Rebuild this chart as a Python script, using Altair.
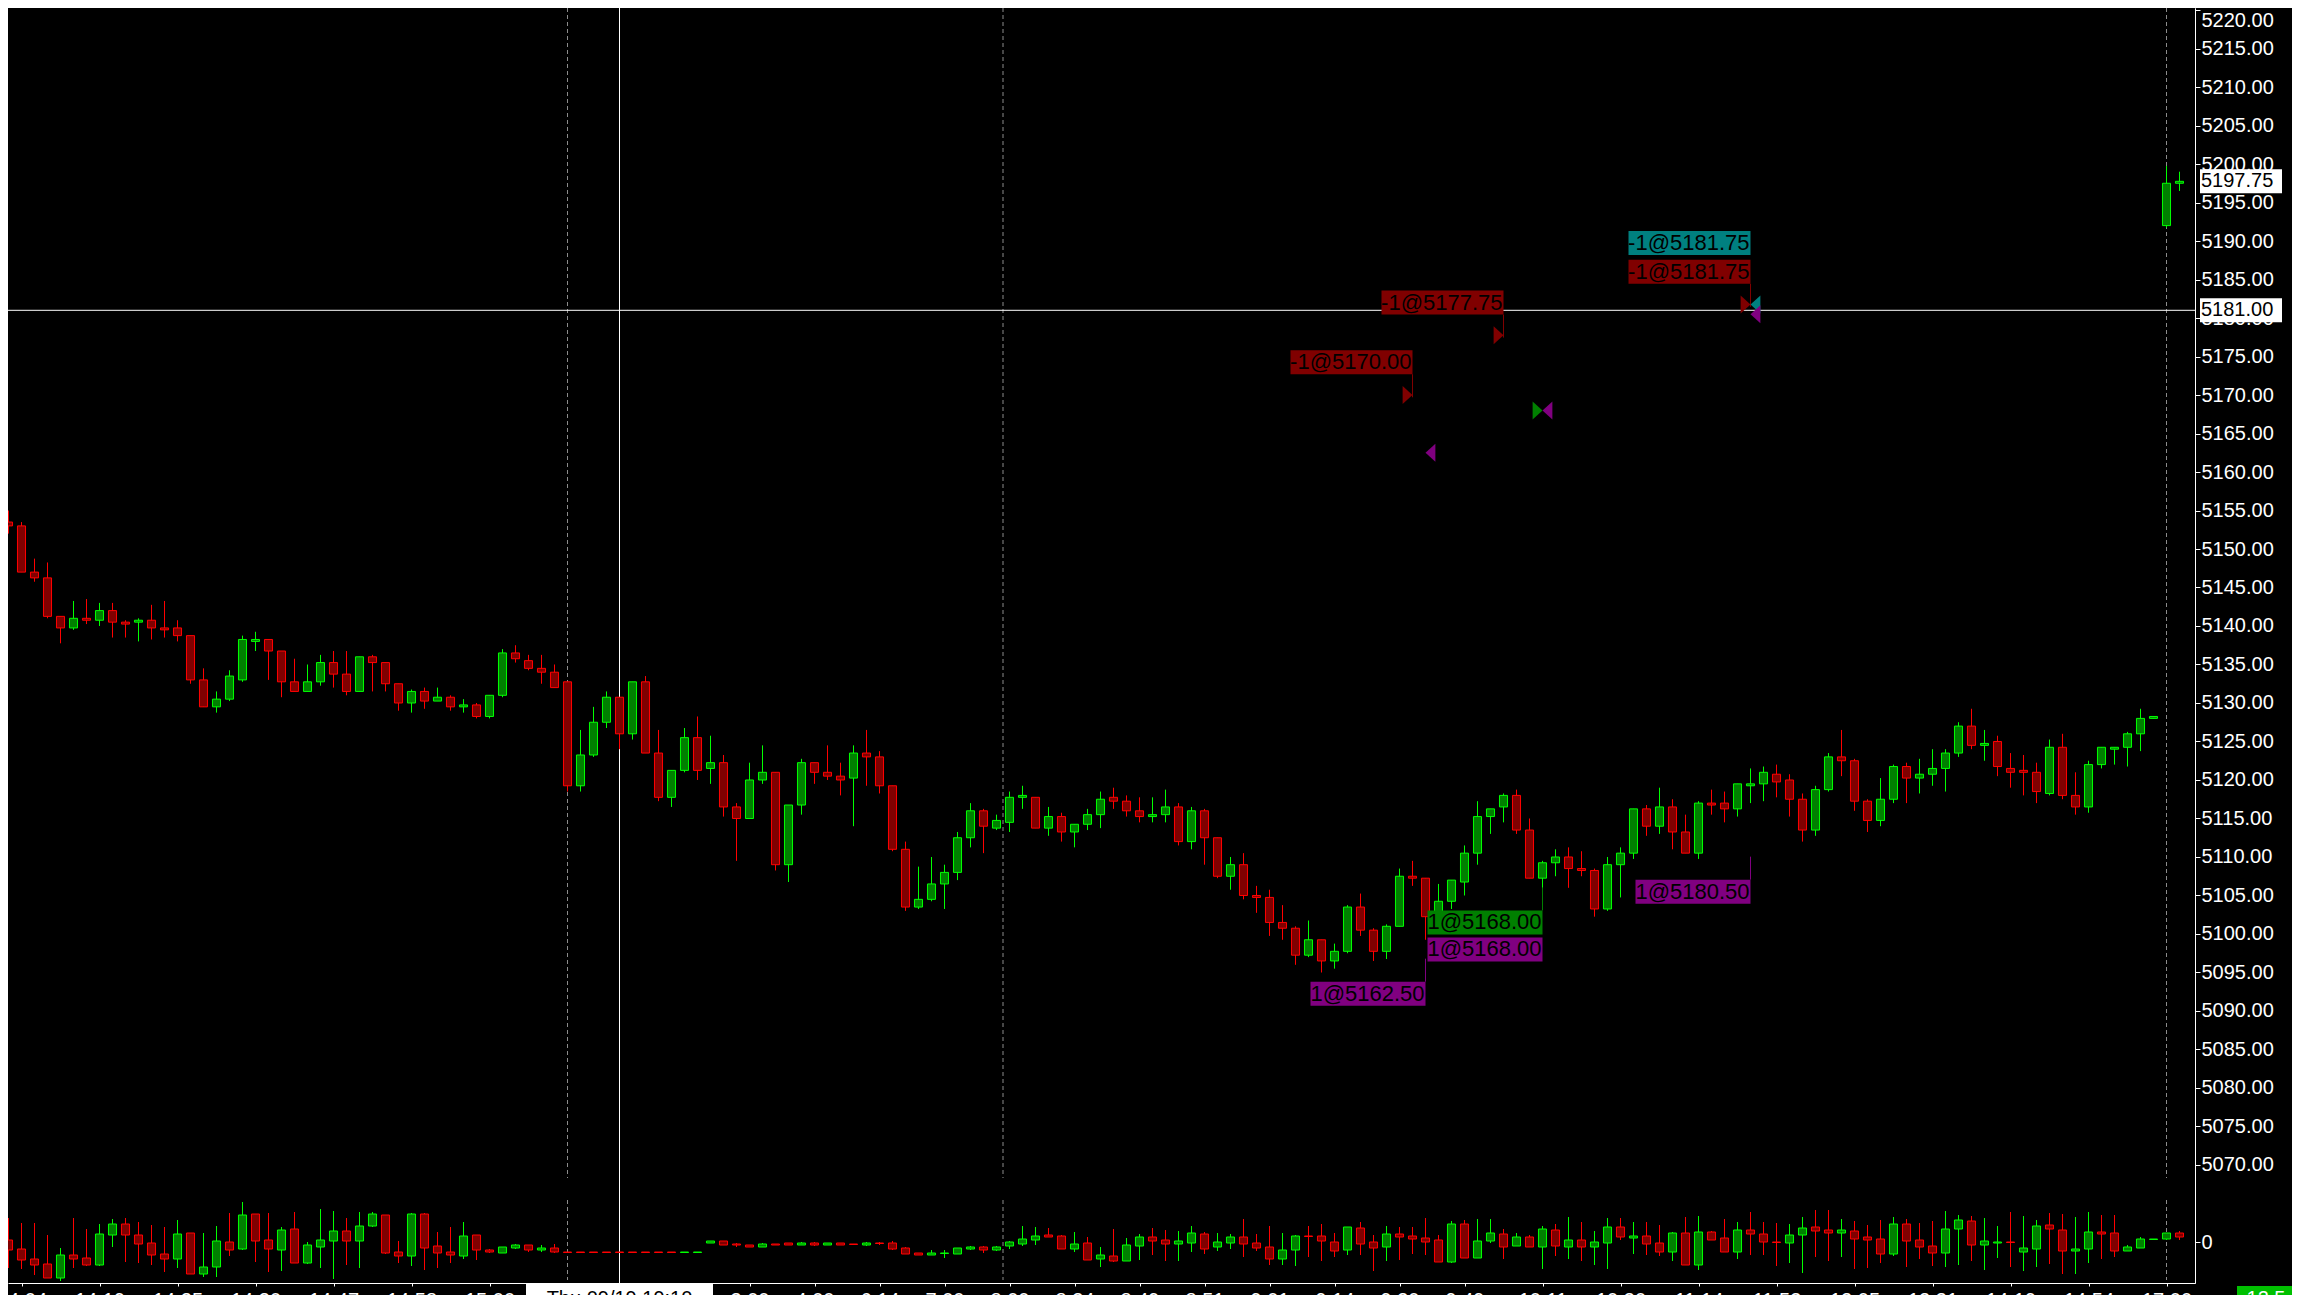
import altair as alt
import pandas as pd

# ---------------- price bars (index 0..167) ----------------
open_p = [
    5153.5, 5153, 5147, 5146.25, 5141.25, 5139.75, 5141, 5140.75, 5142, 5140.5,
    5140.5, 5140.75, 5139.75, 5139.75, 5138.75, 5133, 5129.5, 5130.5, 5133, 5138,
    5138.25, 5136.75, 5132.75, 5131.5, 5132.75, 5135.25, 5133.75, 5131.5, 5136, 5135.25,
    5132.5, 5130, 5131.5, 5130.25, 5130.75, 5129.5, 5129.75, 5128.25, 5131, 5136.5,
    5135.5, 5134.5, 5134, 5132.75, 5119.25, 5123.25, 5127.5, 5130.75, 5126, 5132.75,
    5123.5, 5117.75, 5121.25, 5125.5, 5121.5, 5122.25, 5116.5, 5115, 5120, 5121,
    5109, 5116.75, 5122.25, 5121, 5120.5, 5120.25, 5123.5, 5123, 5119.25, 5111,
    5103.5, 5104.5, 5106.5, 5108, 5112.5, 5116, 5113.75, 5114.5, 5117.75, 5117.75,
    5113.75, 5115.25, 5113.25, 5114.25, 5115.5, 5117.75, 5117.25, 5116, 5115.25, 5115.5,
    5116.5, 5112, 5116, 5112.5, 5107.5, 5109, 5105, 5104.75, 5101.5, 5100.75,
    5097.25, 5099.25, 5096.5, 5097.75, 5103.5, 5100.5, 5097.75, 5101, 5107.5, 5107.25,
    5102.5, 5104.25, 5106.75, 5110.5, 5115.25, 5116.5, 5118, 5113.5, 5107.25, 5109.25,
    5110, 5108.5, 5108.25, 5103.25, 5109, 5110.5, 5116.25, 5114, 5116.5, 5113.25,
    5110.5, 5117, 5117, 5116.25, 5119.25, 5119.5, 5120.75, 5120, 5117.5, 5113.5,
    5118.75, 5123, 5122.5, 5117.25, 5114.75, 5117.5, 5121.75, 5120.25, 5120.75, 5121.5,
    5123.5, 5127, 5124.5, 5125, 5121.5, 5121.25, 5121, 5118.25, 5124.25, 5118,
    5116.5, 5122, 5124, 5124.25, 5126, 5128, 5192, 5197.5,
]
high_p = [
    5155, 5153.5, 5148.75, 5148.25, 5141.25, 5143.25, 5143.5, 5143, 5143, 5140.75,
    5141, 5142.75, 5143.25, 5140.75, 5138.75, 5134.5, 5131.5, 5134.25, 5138.75, 5139.25,
    5138.25, 5136.75, 5135.75, 5135, 5136.25, 5136.75, 5136.75, 5136, 5136.25, 5135.25,
    5132.5, 5131.75, 5132, 5132, 5131, 5130.5, 5130, 5131, 5137, 5137.5,
    5136.25, 5136.25, 5135, 5132.75, 5126.5, 5129.5, 5131.5, 5130.75, 5132.75, 5133.5,
    5126.5, 5121.25, 5126.75, 5128.25, 5125.75, 5123.25, 5117, 5122.25, 5124.5, 5121,
    5116.75, 5122.75, 5122.25, 5124.5, 5122.25, 5124.5, 5126.5, 5123.75, 5119.25, 5112,
    5108.75, 5110, 5109, 5113.25, 5117, 5116.25, 5115.5, 5118.5, 5119.25, 5117.75,
    5116.5, 5115.75, 5114.25, 5116.25, 5118.5, 5119, 5118, 5117.75, 5117.75, 5118.75,
    5117, 5116.5, 5116.25, 5112.5, 5110, 5110.5, 5106.25, 5105.75, 5103.75, 5101,
    5101.75, 5099.25, 5098.75, 5103.75, 5105.25, 5100.75, 5101.25, 5108.5, 5109.5, 5107.25,
    5106.5, 5107, 5111.5, 5117.25, 5116.25, 5118.25, 5118.75, 5115, 5109.5, 5111,
    5111.25, 5110.75, 5108.5, 5110, 5111.25, 5116.25, 5116.75, 5119, 5117.5, 5115.5,
    5117.25, 5118.75, 5118.5, 5119.5, 5121.5, 5121.75, 5122, 5120.75, 5118.25, 5119.25,
    5123.5, 5126.5, 5122.75, 5117.5, 5120.25, 5122, 5122.25, 5122.75, 5124, 5124,
    5127.5, 5129.25, 5126.5, 5125.75, 5123.5, 5123.25, 5122.25, 5125.25, 5126, 5121,
    5122.5, 5124.25, 5124.25, 5126.25, 5129.25, 5128.25, 5199.75, 5199,
]
low_p = [
    5152, 5147, 5145.75, 5141, 5137.75, 5139.5, 5140.25, 5140, 5138.5, 5138.5,
    5138, 5138.25, 5138.5, 5138, 5132.5, 5129.5, 5128.75, 5130.25, 5132.75, 5136.75,
    5133, 5130.75, 5131.5, 5131.5, 5132.25, 5132, 5131, 5131.5, 5131.5, 5131.5,
    5129, 5128.75, 5129.25, 5130.25, 5129, 5128.75, 5128, 5128, 5130.75, 5135.25,
    5134.25, 5132.5, 5132, 5118.5, 5118.5, 5123, 5126.75, 5124, 5125.25, 5123.5,
    5117.25, 5116.5, 5121, 5120, 5119.5, 5115.25, 5109.5, 5115, 5119.5, 5108.25,
    5106.75, 5115.5, 5119.5, 5120, 5118, 5114, 5119.25, 5118.25, 5110.75, 5103,
    5103.25, 5104.25, 5103.25, 5107, 5111.25, 5110.5, 5113.5, 5113.25, 5116.25, 5113.75,
    5112.75, 5112, 5111.25, 5113.5, 5113.75, 5116.25, 5115.25, 5114.5, 5114.5, 5114.5,
    5111.5, 5111, 5109, 5107.25, 5105.75, 5104.5, 5102.75, 5099.75, 5099.25, 5096,
    5097, 5095, 5095.5, 5097.5, 5099.75, 5096.5, 5096.75, 5101, 5106.25, 5099.25,
    5101.5, 5103.25, 5105, 5109, 5113, 5114.5, 5113, 5107.25, 5105.75, 5107.5,
    5106, 5107.5, 5102.25, 5103, 5104.75, 5109.75, 5112.75, 5113, 5111, 5110.5,
    5109.75, 5115.5, 5114.5, 5115.25, 5117, 5117.25, 5117.75, 5115.25, 5112, 5112.75,
    5118.5, 5120.5, 5116, 5113.25, 5114, 5117, 5117, 5118.25, 5119.25, 5118.5,
    5123, 5124, 5122.5, 5120.5, 5119, 5118, 5117, 5118, 5117.5, 5115.5,
    5115.75, 5121.5, 5122, 5121.75, 5123.75, 5128, 5191.75, 5196.5,
]
close_p = [
    5153, 5147, 5146.25, 5141.25, 5139.75, 5141, 5140.75, 5142, 5140.5, 5140.25,
    5140.75, 5139.75, 5139.5, 5138.75, 5133, 5129.5, 5130.5, 5133.5, 5138.25, 5138.25,
    5136.75, 5132.75, 5131.5, 5132.75, 5135.25, 5133.75, 5131.5, 5136, 5135.25, 5132.5,
    5130, 5131.5, 5130.25, 5130.75, 5129.5, 5129.75, 5128.25, 5131, 5136.5, 5135.75,
    5134.5, 5134, 5132, 5119.25, 5123.25, 5127.5, 5130.75, 5126, 5132.75, 5123.5,
    5117.75, 5121.25, 5125.5, 5121.25, 5122.25, 5116.5, 5115, 5120, 5121, 5109,
    5116.75, 5122.25, 5121, 5120.5, 5120, 5123.5, 5123, 5119.25, 5111, 5103.5,
    5104.5, 5106.5, 5108, 5112.5, 5116, 5114, 5114.75, 5117.75, 5118, 5113.75,
    5115.25, 5113.25, 5114.25, 5115.5, 5117.5, 5117.25, 5116, 5115.25, 5115.5, 5116.5,
    5112, 5116, 5112.5, 5107.5, 5109, 5105, 5104.75, 5101.5, 5100.75, 5097.25,
    5099.25, 5096.5, 5097.75, 5103.5, 5100.5, 5097.75, 5101, 5107.5, 5107.25, 5102.25,
    5104.25, 5107, 5110.5, 5115.25, 5116.25, 5118, 5113.5, 5107.25, 5109.25, 5110,
    5108.5, 5108.25, 5103.25, 5109, 5110.5, 5116.25, 5114, 5116.5, 5113.25, 5110.5,
    5117, 5116.75, 5116.25, 5119.5, 5119.5, 5121, 5119.75, 5117.5, 5113.5, 5118.75,
    5123, 5122.5, 5117.25, 5114.75, 5117.5, 5121.75, 5120.25, 5120.75, 5121.5, 5123.5,
    5127, 5124.5, 5124.75, 5121.75, 5121, 5121, 5118.5, 5124.25, 5118, 5116.5,
    5122, 5124.25, 5124.25, 5126, 5128, 5128.25, 5197.5, 5197.75,
]

# ---------------- lower indicator bars ----------------
ind_open = [
    1, -3.5, -8.5, -11, -18, -6.5, -8, -11.5, 3.5, 9,
    3.5, -0.5, -6, -8.5, 4.5, -16, -12.5, 0, -3.5, 14,
    1, -4, 6.5, -10.5, -2.5, 0.5, 5.5, 0.5, 8, 13.5,
    -5, -7, 14, -2, -5, -7, 3.5, -4, -5.5, -3,
    -1.5, -4, -3, -5, -5, -5, -5, -5, -5, -5,
    -5, -5, -5.25, -5.25, -0.5, 0.5, -1, -1.5, -2.5, -1,
    -0.5, -1.5, -0.5, -1.5, -0.5, -1, -1.5, -0.5, -0.5, -3,
    -5.5, -6.5, -5.75, -6, -3.5, -2.5, -4, -2, -1, 1,
    3.5, 3, -3.5, -0.5, -8.5, -7, -9.5, -2, 2.5, 1,
    -1, -0.5, 4, -2.5, -0.5, 2.5, -0.5, -2.5, -8.5, -4,
    3, 3, 0, -4, 7, 0, -2.5, 4, 3, 2,
    1, -10, 9, -8, 0.5, 4, -2, 2.5, -2.5, 6,
    -2.5, 1, -2.5, -0.5, 7.5, 2, 3, -0.5, -5, 4.5,
    -11.5, 5, 2, -5, 6, 4, 0, -0.5, 3.5, 7.5,
    6, 4.5, 5.5, 2.5, 1.5, -6, 9, 1, -2, -5.5,
    6.5, 10.5, -1.5, -0.5, 0, -5, -3.5, 8.5, 6, -4.5,
    -3.5, 5, 4.5, -4.5, -3, 1.25, 1.5, 4.5,
]
ind_high = [
    12, 9.5, 9.5, 3.5, -3, 12, 6.5, 9, 11.5, 12,
    10, 8.5, 7.5, 11, 4.5, 4.5, 8, 14.5, 20, 14,
    14.5, 7.5, 15, 0, 16.5, 15.5, 12, 15, 15, 13.5,
    0.5, 14.5, 14.5, 5, 7.5, 10, 3.5, -3.5, -2.5, -1,
    -1.5, -1.5, -1, -5, -5, -5, -5, -5, -5, -5,
    -5, -5, -5, -5, 0.5, 0.5, -0.5, -1.5, -0.5, -1,
    -0.5, 0, 0, -0.5, -0.5, -1, 0, 0, 0.5, -2.5,
    -5.5, -4, -4, -3, -2, -2, -2, 0.5, 8, 7.5,
    7, 3.5, 5, 2.5, -2.5, 6.5, 2, 4, 7, 6,
    5.5, 8, 5, 4.5, 4, 11.5, 4, 8, 4.5, 3.5,
    8, 9, 4.5, 7.5, 10, 3.5, 8, 7.5, 7.5, 12,
    3.5, 10.5, 11, 11.5, 11.5, 6.5, 4.5, 3.5, 8, 9,
    12.5, 10, 5.5, 12, 12, 10, 10, 8.5, 5, 12.5,
    13, 5.5, 11.5, 10, 15, 10, 9.5, 9, 12.5, 16,
    16, 11.5, 10.5, 8.5, 11, 12.5, 11.5, 9.5, 10.5, 15.5,
    13.5, 13, 12, 8, 15, 13, 11, 14.5, 14, 12.5,
    15, 13.5, 13.5, -1.5, 2.5, 1.5, 4.5, 5.5,
]
ind_low = [
    -13, -13.5, -16.5, -18, -19.5, -13, -12, -12, -2.5, -10,
    -10.5, -11.5, -15, -13, -16, -17.5, -17.5, -7, -4, -10,
    -15, -14.5, -10.5, -11, -13, -18.5, -11.5, -13, 7.5, -6,
    -10.5, -12, -14, -13, -10.5, -8.5, -9, -5.5, -5.5, -3.5,
    -5, -5, -5.5, -5.25, -5.25, -5.25, -5.25, -5.25, -5.25, -5.25,
    -5.25, -5.25, -5.25, -5.25, -0.5, -1.5, -2.5, -2.5, -2.5, -1.5,
    -1.5, -1.5, -2, -1.5, -1.5, -1.5, -2, -1.5, -4, -6,
    -6.5, -6.5, -8, -6, -4, -5.5, -4.5, -3.5, -2, -1.5,
    2.5, -3.5, -5, -9, -12.5, -10, -9.5, -9, -6.5, -9.5,
    -9.5, -5, -6, -4.5, -3.5, -7.5, -4.5, -11.5, -11.5, -12,
    -7.5, -9.5, -7.5, -6.5, -6.5, -14.5, -9.5, -9, -6, -6.5,
    -10, -10.5, -8, -8, -0.5, -8.5, -2, -2.5, -13.5, -7,
    -8.5, -9.5, -11.5, -13.5, 1, -6, -6.5, -7, -9.5, -11.5,
    -14, 1, -5, -8.5, -6.5, -6.5, -12, -10.5, -15.5, -7.5,
    -9.5, -7.5, -13.5, -13, -10.5, -7, -12.5, -8.5, -12, -12.5,
    -11.5, -9.5, -14, -8, -12.5, -14.5, -12.5, -11, -16, -16,
    -10.5, -8.5, -7.5, -4.5, -3, 1.25, 1, 1,
]
ind_close = [
    -4, -9, -11.5, -18, -6.5, -8.5, -11.5, 4, 9, 3.5,
    -1, -6.5, -8.5, 4, -16, -12.5, 0.5, -4, 13.5, 0.5,
    -3.5, 6, -10.5, -1.5, 1, 5.5, 0.5, 8, 14, -5.5,
    -7, 14, -3, -5.5, -6.5, 3, -4, -5, -2.5, -1.5,
    -4, -3, -5, -5.25, -5.25, -5.25, -5.25, -5.25, -5.25, -5.25,
    -5.25, -5.25, -5, -5, 0.5, -1.5, -1.5, -2.5, -1, -1.5,
    -1.5, -0.5, -1.5, -0.5, -1.5, -1.25, -0.5, -0.75, -3.5, -6,
    -6.5, -5.5, -5.5, -3, -2.5, -4, -2.5, 0, 1.5, 3,
    2.5, -3.5, -1, -9, -6.5, -9.5, -1.5, 2.5, 0.5, -1,
    0.5, 4.5, -3.5, 0, 2.5, -1, -3, -8.5, -4, 3,
    2.75, 0.5, -4.5, 7.5, -1, -3, 4, 2.5, 1.5, 0,
    -10, 9, -8, 0.5, 4.5, -2.5, 2.5, -2.5, 6.5, -2,
    1, -2.5, 0, 7.5, 2.5, 3, -1, -5, 4.5, -11.5,
    5, 1, -5, 6, 4, 0, -0.25, 3.5, 7, 5.5,
    4.5, 6, 1.5, 1, -6, 9, 0.5, -2.5, -5.5, 6.5,
    11, -1.5, 0.5, 0, -0.25, -3, 8, 6.5, -4.5, -3.5,
    5, 4, -4.5, -2.5, 1.5, 1.5, 4.5, 2.5,
]

# ---------------- axis ticks, sessions, trades ----------------
session_breaks = [43, 76.5, 166]
crosshair_bar = [47]
crosshair_price = [5181.00]
crosshair_time = ["Thu 09/19 19:10"]
last_price = [5197.75]

tick_idx = [1, 7, 13, 19, 25, 31, 37, 43, 52, 57, 62, 67, 72, 77, 82, 87, 92,
            97, 102, 107, 112, 118, 124, 130, 136, 142, 148, 154, 160, 166]
tick_lbl = ["14:04", "14:19", "14:25", "14:30", "14:47", "14:58", "15:00", "17:00",
            "2:00", "3:00", "4:00", "6:14", "7:00", "8:00", "8:34", "8:49", "8:51",
            "9:01", "9:14", "9:30", "9:49", "10:11", "10:30", "11:14", "11:53",
            "12:05", "12:31", "14:19", "14:54", "17:00"]
price_ticks = list(range(5070, 5221, 5))

RED, CYAN, PURPLE, GREEN = "#800000", "#008080", "#800080", "#008000"

sell_text = ["-1@5170.00", "-1@5177.75", "-1@5181.75", "-1@5181.75"]
sell_bar = [108, 115, 134, 134]
sell_label_y = [5174.25, 5182.0, 5189.75, 5186.0]
sell_col = [RED, RED, CYAN, RED]

buy_text = ["1@5162.50", "1@5168.00", "1@5168.00", "1@5180.50"]
buy_bar = [109, 118, 118, 134]
buy_label_y = [5092.25, 5101.5, 5098.0, 5105.5]
buy_col = [PURPLE, GREEN, PURPLE, PURPLE]

sell_conn_bar = [108, 115, 134]
sell_conn_y = [5174.25, 5182.0, 5186.0]
buy_conn_bar = [109, 118, 134]
buy_conn_y = [5092.25, 5101.5, 5105.5]
buy_conn_col = [PURPLE, GREEN, PURPLE]

tri_r_bar = [108, 115, 134, 118]
tri_r_price = [5170.00, 5177.75, 5181.75, 5168.00]
tri_r_col = [RED, RED, RED, GREEN]
tri_l_bar = [134, 134, 109, 118]
tri_l_price = [5181.75, 5180.50, 5162.50, 5168.00]
tri_l_col = [CYAN, PURPLE, PURPLE, PURPLE]

footer_value = ["12.5"]

# ---------------- build ----------------
n = len(open_p)
bars = pd.DataFrame({
    "idx": list(range(n)), "open": open_p, "high": high_p, "low": low_p, "close": close_p,
    "iopen": ind_open, "ihigh": ind_high, "ilow": ind_low, "iclose": ind_close,
})

UP_FILL, UP_LINE = "#008000", "#00ff00"
DN_FILL, DN_LINE = "#800000", "#ff0000"
FONT = "Liberation Sans"

W, H = 2187, 1275
xs = alt.Scale(domain=[-0.0385, 168.1923], nice=False, zero=False)
ys = alt.Scale(domain=[5054.675, 5220.26], nice=False, zero=False)
yi = alt.Scale(domain=[-20.5, 617], nice=False, zero=False)

label_expr = ("[" + ",".join("'%s'" % t for t in tick_lbl) + "][indexof(["
              + ",".join(str(i) for i in tick_idx) + "], datum.value)]")

xaxis = alt.Axis(values=tick_idx, labelExpr=label_expr, orient="bottom", title=None,
                 grid=False, domainColor="white", tickColor="white", labelColor="white",
                 tickSize=3, labelPadding=4, labelFont=FONT, labelFontSize=20,
                 labelOverlap=False, labelBaseline="top")
yaxis = alt.Axis(orient="right", values=price_ticks, format=".2f", title=None, grid=False,
                 domainColor="white", tickColor="white", labelColor="white", tickSize=5,
                 labelPadding=1, labelFont=FONT, labelFontSize=20, labelOverlap=False,
                 labelFlush=5)
iaxis = alt.Axis(orient="right", values=[0], format="d", title=None, grid=False,
                 domainColor="white", tickColor="white", labelColor="white", tickSize=5,
                 labelPadding=1, labelFont=FONT, labelFontSize=20)


def X(f):
    return alt.X(f, type="quantitative", scale=xs, axis=xaxis)


def YP(f):
    return alt.Y(f, type="quantitative", scale=ys, axis=yaxis)


def YI(f):
    return alt.Y(f, type="quantitative", scale=yi, axis=iaxis)


up = alt.datum.close >= alt.datum.open
iup = alt.datum.iclose >= alt.datum.iopen
base = alt.Chart(bars)

# --- price pane ---
sess = alt.Chart(pd.DataFrame({"idx": session_breaks}))
sess_top = sess.mark_rule(color="#8c8c8c", strokeDash=[4, 3], strokeWidth=1).encode(
    x=X("idx"), y=alt.value(0), y2=alt.value(1170))
sess_bot = sess.mark_rule(color="#8c8c8c", strokeDash=[4, 3], strokeWidth=1).encode(
    x=X("idx"), y=alt.value(1192), y2=alt.value(1272))

cross = alt.Chart(pd.DataFrame({"idx": crosshair_bar, "price": crosshair_price,
                                "time": crosshair_time}))
cross_v = cross.mark_rule(color="white", strokeWidth=1).encode(
    x=X("idx"), y=alt.value(0), y2=alt.value(H))
cross_h = cross.mark_rule(color="white", strokeWidth=1).encode(y=YP("price"))

wicks = base.mark_rule(strokeWidth=1, clip=True).encode(
    x=X("idx"), y=YP("high"), y2="low",
    color=alt.condition(up, alt.value(UP_LINE), alt.value(DN_LINE)))
bodies = base.transform_calculate(x0="datum.idx - 0.31", x1="datum.idx + 0.31").mark_rect(
    strokeWidth=1, clip=True).encode(
    x=X("x0"), x2="x1", y=YP("open"), y2="close",
    fill=alt.condition(up, alt.value(UP_FILL), alt.value(DN_FILL)),
    stroke=alt.condition(up, alt.value(UP_LINE), alt.value(DN_LINE)))

sell = alt.Chart(pd.DataFrame({"bar": sell_bar, "label_y": sell_label_y,
                               "text": sell_text, "col": sell_col}))
sell_box = sell.mark_rect(xOffset=-122, yOffset=-12, y2Offset=12).encode(
    x=X("bar"), x2="bar", y=YP("label_y"), y2="label_y", fill=alt.Fill("col:N", scale=None))
sell_txt = sell.mark_text(align="right", baseline="middle", dx=-1, font=FONT, fontSize=22,
                          color="black").encode(x=X("bar"), y=YP("label_y"), text="text:N")
sell_conn = alt.Chart(pd.DataFrame({"bar": sell_conn_bar, "label_y": sell_conn_y})).mark_rule(
    color=RED, strokeWidth=1, yOffset=12, y2Offset=35).encode(
    x=X("bar"), y=YP("label_y"), y2="label_y")

buy = alt.Chart(pd.DataFrame({"bar": buy_bar, "label_y": buy_label_y,
                              "text": buy_text, "col": buy_col}))
buy_box = buy.mark_rect(xOffset=-115, yOffset=-12, y2Offset=12).encode(
    x=X("bar"), x2="bar", y=YP("label_y"), y2="label_y", fill=alt.Fill("col:N", scale=None))
buy_txt = buy.mark_text(align="right", baseline="middle", dx=-1, font=FONT, fontSize=22,
                        color="black").encode(x=X("bar"), y=YP("label_y"), text="text:N")
buy_conn = alt.Chart(pd.DataFrame({"bar": buy_conn_bar, "label_y": buy_conn_y,
                                   "col": buy_conn_col})).mark_rule(
    strokeWidth=1, yOffset=-12, y2Offset=-35).encode(
    x=X("bar"), y=YP("label_y"), y2="label_y", color=alt.Color("col:N", scale=None))

RIGHT_TRI = "M -1.1 -1 L 0 0 L -1.1 1 Z"
LEFT_TRI = "M 1.1 -1 L 0 0 L 1.1 1 Z"
tri_r = alt.Chart(pd.DataFrame({"bar": tri_r_bar, "price": tri_r_price, "col": tri_r_col})).mark_point(
    shape=RIGHT_TRI, filled=True, size=324, opacity=1, strokeWidth=0).encode(
    x=X("bar"), y=YP("price"), color=alt.Color("col:N", scale=None))
tri_l = alt.Chart(pd.DataFrame({"bar": tri_l_bar, "price": tri_l_price, "col": tri_l_col})).mark_point(
    shape=LEFT_TRI, filled=True, size=324, opacity=1, strokeWidth=0).encode(
    x=X("bar"), y=YP("price"), color=alt.Color("col:N", scale=None))

tags = alt.Chart(pd.DataFrame({"price": last_price + crosshair_price}))
tag_box = tags.mark_rect(fill="white", yOffset=-12, y2Offset=12).encode(
    x=alt.value(2192), x2=alt.value(2274), y=YP("price"), y2="price")
tag_txt = tags.mark_text(align="left", baseline="middle", font=FONT, fontSize=20,
                         color="black").encode(
    x=alt.value(2193), y=YP("price"), text=alt.Text("price:Q", format=".2f"))

price_layer = alt.layer(sess_top, cross_v, cross_h, wicks, bodies,
                        sell_conn, sell_box, sell_txt, buy_conn, buy_box, buy_txt,
                        tri_r, tri_l, tag_box, tag_txt)

# --- lower indicator pane ---
iwicks = base.mark_rule(strokeWidth=1).encode(
    x=X("idx"), y=YI("ihigh"), y2="ilow",
    color=alt.condition(iup, alt.value(UP_LINE), alt.value(DN_LINE)))
ibodies = base.transform_calculate(x0="datum.idx - 0.31", x1="datum.idx + 0.31").mark_rect(
    strokeWidth=1).encode(
    x=X("x0"), x2="x1", y=YI("iopen"), y2="iclose",
    fill=alt.condition(iup, alt.value(UP_FILL), alt.value(DN_FILL)),
    stroke=alt.condition(iup, alt.value(UP_LINE), alt.value(DN_LINE)))

time_box = cross.mark_rect(fill="white", xOffset=-93.5, x2Offset=93.5).encode(
    x=X("idx"), x2="idx", y=alt.value(1276), y2=alt.value(1320))
time_txt = cross.mark_text(align="center", baseline="top", font=FONT, fontSize=20,
                           color="black").encode(x=X("idx"), y=alt.value(1281), text="time:N")
foot = alt.Chart(pd.DataFrame({"v": footer_value}))
foot_box = foot.mark_rect(fill="#00c000").encode(
    x=alt.value(2229), x2=alt.value(2290), y=alt.value(1278), y2=alt.value(1320))
foot_txt = foot.mark_text(align="center", baseline="top", font=FONT, fontSize=20,
                          color="white").encode(x=alt.value(2258), y=alt.value(1281), text="v:N")

ind_layer = alt.layer(sess_bot, iwicks, ibodies, time_box, time_txt, foot_box, foot_txt)

chart = alt.layer(price_layer, ind_layer).resolve_scale(y="independent").properties(
    width=W, height=H,
    autosize=alt.AutoSizeParams(type="none"),
    padding={"left": 0, "top": 0, "right": 97, "bottom": 24},
    background="#000000",
).configure_view(stroke=None)

chart.save("out.html", embed_options={"renderer": "svg", "actions": False})
